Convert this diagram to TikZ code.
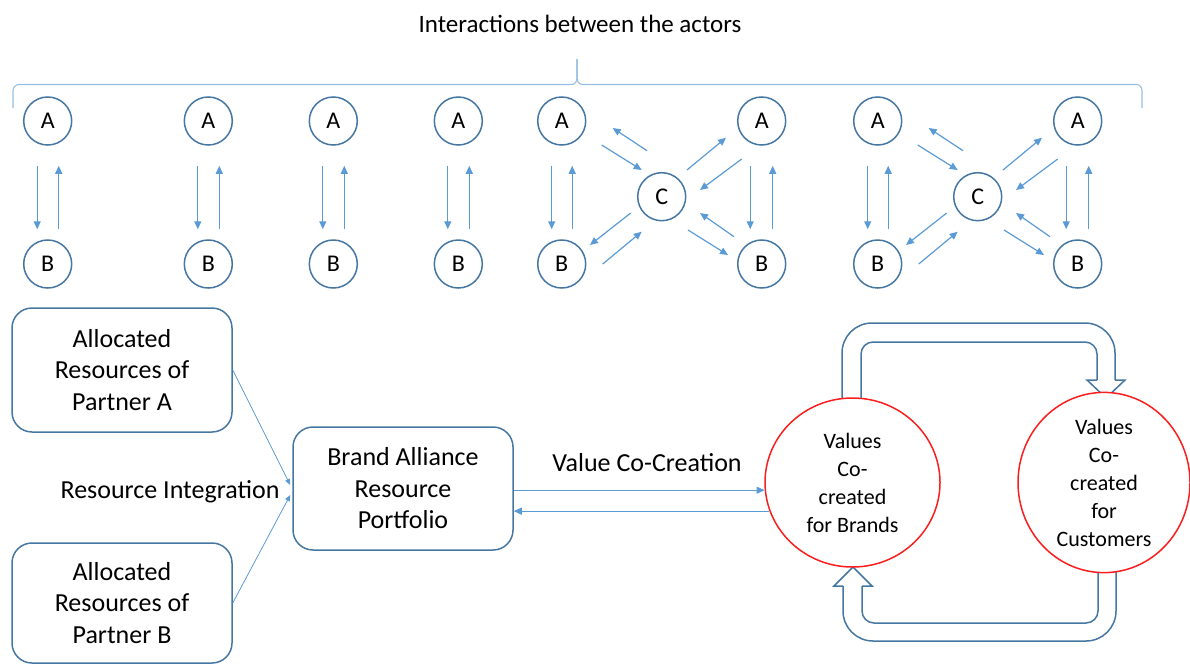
\documentclass[tikz,border=0pt]{standalone}
\usepackage{fontspec}
\setmainfont{Carlito}
\usetikzlibrary{arrows.meta,calc,shapes.geometric}
\definecolor{cline}{RGB}{70,118,162}
\definecolor{arrblue}{RGB}{91,155,213}
\definecolor{bracec}{RGB}{150,190,228}
\definecolor{cred}{RGB}{250,30,30}
\begin{document}
\begin{tikzpicture}[x=1pt,y=-1pt,
  actor/.style={circle,draw=cline,line width=1.5pt,minimum size=48pt,inner sep=0pt,font=\fontsize{24}{28}\selectfont},
  arr/.style={draw=arrblue,line width=1.2pt,-{Triangle[length=8pt,width=7pt]}},
  thinarr/.style={draw=arrblue,line width=0.8pt,-{Triangle[length=6pt,width=5pt]}},
  box/.style={draw=cline,line width=1.5pt,rounded corners=20pt,minimum width=220pt,align=center,font=\fontsize{26}{31.5}\selectfont,inner sep=0pt},
  valc/.style={ellipse,draw=cred,line width=1.5pt,fill=white,align=center,font=\fontsize{22}{28}\selectfont,inner sep=0pt},
  bigarr/.style={draw=cline,line width=1.5pt},
  bracestyle/.style={draw=bracec,line width=1.1pt},
  lbl/.style={font=\fontsize{26}{31.5}\selectfont,inner sep=0pt}]
\useasboundingbox (0,0) rectangle (1190,664);

% title and brace
\node[font=\fontsize{25}{30}\selectfont,inner sep=0pt] (title) at (580,24) {Interactions between the actors};
\draw[bracestyle,rounded corners=6pt] (13,108) -- (13,84.5) -- (571,84.5);
\draw[bracestyle] (571,84.5) .. controls (575,84.5) and (577,82) .. (577,77) -- (577,59);
\draw[bracestyle] (577,59) -- (577,77) .. controls (577,82) and (579,84.5) .. (583,84.5);
\draw[bracestyle,rounded corners=6pt] (583,84.5) -- (1142,84.5) -- (1142,108);

% simple pairs
\foreach \i/\x in {1/47.7,2/208.3,3/333.3,4/458.3}{
  \node[actor] (pa\i) at (\x,121) {A};
  \node[actor] (pb\i) at (\x,264) {B};
  \draw[arr] ([xshift=-10.5pt,yshift=-20pt]pa\i.south) -- ([xshift=-10.5pt,yshift=10pt]pb\i.north);
  \draw[arr] ([xshift=11pt,yshift=10pt]pb\i.north) -- ([xshift=11pt,yshift=-20pt]pa\i.south);
}

% triangle groups
\foreach \g/\s in {1/0,2/316}{
  \node[actor] (al\g) at (561.7+\s,121) {A};
  \node[actor] (ar\g) at (761.7+\s,121) {A};
  \node[actor] (bl\g) at (561.7+\s,264) {B};
  \node[actor] (br\g) at (761.7+\s,264) {B};
  \node[actor] (c\g) at (661.7+\s,196.7) {C};
  \draw[arr] ([xshift=-10pt,yshift=-20pt]al\g.south) -- ([xshift=-10pt,yshift=10pt]bl\g.north);
  \draw[arr] ([xshift=10.5pt,yshift=10pt]bl\g.north) -- ([xshift=10.5pt,yshift=-20pt]al\g.south);
  \draw[arr] ([xshift=-11.5pt,yshift=-20pt]ar\g.south) -- ([xshift=-11.5pt,yshift=10pt]br\g.north);
  \draw[arr] ([xshift=11pt,yshift=10pt]br\g.north) -- ([xshift=11pt,yshift=-20pt]ar\g.south);
  \draw[arr] ($(c\g)+(-60,-51.7)$) -- ($(c\g)+(-20,-26.7)$);
  \draw[arr] ($(c\g)+(-14.7,-46)$) -- ($(c\g)+(-49,-68.7)$);
  \draw[arr] ($(c\g)+(25.3,-26.7)$) -- ($(c\g)+(64.3,-59)$);
  \draw[arr] ($(c\g)+(80,-37.7)$) -- ($(c\g)+(38.3,-6.7)$);
  \draw[arr] ($(c\g)+(-31,16.3)$) -- ($(c\g)+(-71.7,48.3)$);
  \draw[arr] ($(c\g)+(-59,67.3)$) -- ($(c\g)+(-20,35)$);
  \draw[arr] ($(c\g)+(26.3,33.3)$) -- ($(c\g)+(66.3,58.3)$);
  \draw[arr] ($(c\g)+(72.3,40)$) -- ($(c\g)+(38.3,16.3)$);
}

% resource boxes
\node[box,minimum height=124pt] (boxa) at (122,370) {Allocated\\Resources of\\Partner A};
\node[box,minimum height=120pt] (boxb) at (122,603) {Allocated\\Resources of\\Partner B};
\node[box,minimum height=123pt] (brand) at (403,488.5) {Brand Alliance\\Resource\\Portfolio};
\node[lbl] (ri) at (170,492) {Resource Integration};
\draw[thinarr] (boxa.east) -- ([xshift=-2pt,yshift=3.5pt]brand.west);
\draw[thinarr] (boxb.east) -- ([xshift=-2pt,yshift=-6.5pt]brand.west);

% big loop arrows
\draw[bigarr,rounded corners=30pt] (842,405) -- (842,323) -- (1115,323) -- (1115,380);
\draw[bigarr,rounded corners=12pt] (861,405) -- (861,342) -- (1097,342) -- (1097,380);
\draw[bigarr,line join=miter] (1097,380) -- (1087,380) -- (1106,398) -- (1125,380) -- (1115,380);
\draw[bigarr,rounded corners=30pt] (1116,560) -- (1116,641) -- (843,641) -- (843,586);
\draw[bigarr,rounded corners=12pt] (1098,560) -- (1098,623) -- (862,623) -- (862,586);
\draw[bigarr,line join=miter] (843,586) -- (834,586) -- (853,567) -- (872,586) -- (862,586);

% value circles
\node[valc,minimum width=175pt,minimum height=169pt] (lc) at (852.5,482.5) {Values\\Co-\\created\\for Brands};
\node[valc,minimum width=172pt,minimum height=169pt] (rc) at (1104,482.5) {Values\\Co-\\created\\for\\Customers};

% value co-creation
\node[lbl] (vcc) at (647,463) {Value Co-Creation};
\draw[arr] (lc.185 -| brand.east) -- (lc.185);
\draw[arr] (lc.199) -- (lc.199 -| brand.east);
\end{tikzpicture}
\end{document}
